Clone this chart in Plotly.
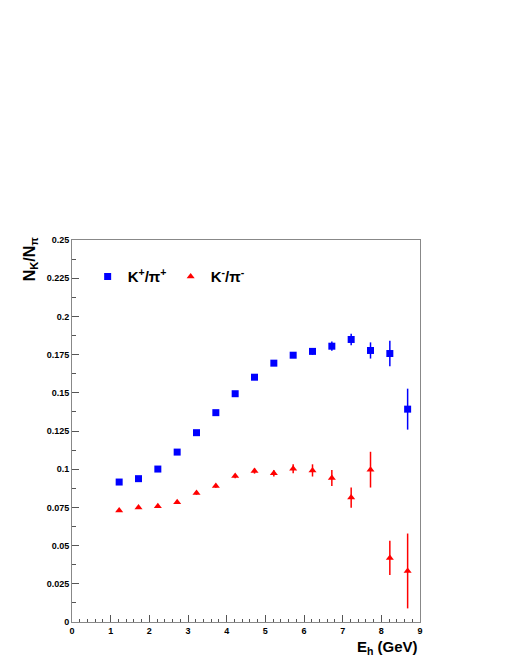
import plotly.graph_objs as go

# bin centres in E_h (GeV)
e_h = [1.22, 1.72, 2.22, 2.72, 3.22, 3.72, 4.22, 4.72,
       5.22, 5.72, 6.22, 6.72, 7.22, 7.72, 8.22, 8.68]

# K+/pi+ ratio and errors
kp_ratio = [0.0916, 0.0938, 0.1001, 0.1112, 0.1239, 0.1370, 0.1494, 0.1602,
            0.1694, 0.1746, 0.1771, 0.1805, 0.1849, 0.1777, 0.1757, 0.1393]
kp_err = [0.0008, 0.0008, 0.0008, 0.0009, 0.0010, 0.0010, 0.0011, 0.0012,
          0.0014, 0.0018, 0.0022, 0.0030, 0.0038, 0.0053, 0.0083, 0.0134]

# K-/pi- ratio and errors
km_ratio = [0.0730, 0.0750, 0.0757, 0.0783, 0.0844, 0.0890, 0.0955, 0.0988,
            0.0973, 0.1003, 0.0992, 0.0942, 0.0814, 0.0997, 0.0419, 0.0334]
km_err = [0.0008, 0.0008, 0.0009, 0.0010, 0.0011, 0.0012, 0.0014, 0.0017,
          0.0020, 0.0030, 0.0040, 0.0052, 0.0067, 0.0117, 0.0112, 0.0245]

y_ticks = [0, 0.025, 0.05, 0.075, 0.1, 0.125, 0.15, 0.175, 0.2, 0.225, 0.25]
y_ticktext = ['0', '0.025', '0.05', '0.075', '0.1', '0.125', '0.15', '0.175', '0.2', '0.225', '0.25']
x_ticks = list(range(10))

font_family = 'Liberation Sans, Arial, sans-serif'

data = [
    go.Scatter(x=e_h, y=kp_ratio, mode='markers',
               error_y=dict(type='data', array=kp_err, color='#0000ff', thickness=1.5, width=0),
               marker=dict(symbol='square', size=7, color='#0000ff'),
               name='<b>K<sup>+</sup>/π<sup>+</sup></b>'),
    go.Scatter(x=e_h, y=km_ratio, mode='markers',
               error_y=dict(type='data', array=km_err, color='#ff0000', thickness=1.5, width=0),
               marker=dict(symbol='triangle-up', size=7, color='#ff0000'),
               name='<b>K<sup>-</sup>/π<sup>-</sup></b>'),
]

axis_common = dict(showgrid=False, zeroline=False, showline=True, mirror=True,
                   linecolor='#888888', linewidth=1, ticks='inside', ticklen=7,
                   tickcolor='#555555', tickwidth=1,
                   tickfont=dict(family=font_family, size=9, color='black', weight='bold'))

# page body adds an 8px offset, so margins are shifted by that amount
layout = dict(
    width=518, height=670,
    margin=dict(l=64, r=106, t=232, b=56),
    paper_bgcolor='white', plot_bgcolor='white',
    font=dict(family=font_family, color='black'),
    xaxis=dict(range=[0, 9], tickvals=x_ticks,
               minor=dict(dtick=0.2, ticks='inside', ticklen=3, tickcolor='#555555'),
               **axis_common),
    yaxis=dict(range=[0, 0.25], tickvals=y_ticks, ticktext=y_ticktext,
               minor=dict(dtick=0.0125, ticks='inside', ticklen=3.5, tickcolor='#555555'),
               **axis_common),
    showlegend=True,
    legend=dict(orientation='h', x=0.045, xanchor='left', y=0.904, yanchor='middle',
                entrywidth=38, bgcolor='rgba(0,0,0,0)',
                font=dict(family=font_family, size=15, color='black')),
    annotations=[
        dict(text='<b>N<sub>K</sub>/N<sub>π</sub></b>', textangle=-90,
             xref='paper', yref='paper', x=-0.12, y=0.95,
             xanchor='center', yanchor='middle', showarrow=False,
             font=dict(family=font_family, size=16, color='black')),
        dict(text='<b>E<sub>h</sub> (GeV)</b>',
             xref='paper', yref='paper', x=1.0, y=-0.068,
             xanchor='right', yanchor='middle', showarrow=False,
             font=dict(family=font_family, size=15, color='black')),
    ],
)

fig = go.Figure(data, layout)
fig.write_html("out.html")
